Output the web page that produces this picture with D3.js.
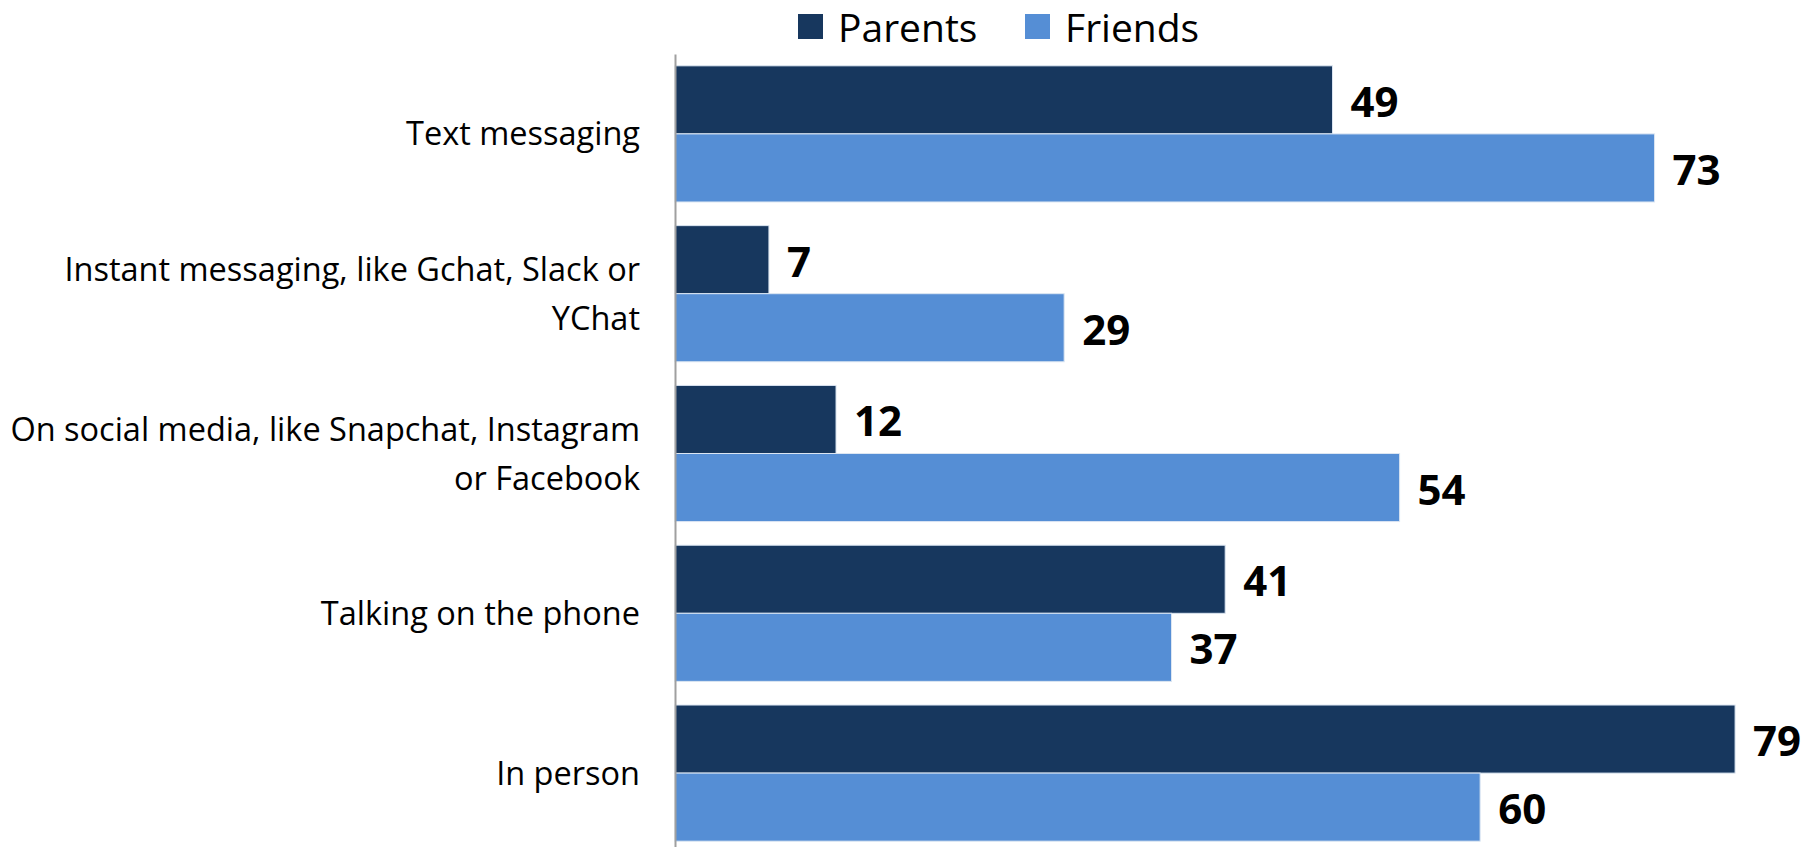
<!DOCTYPE html>
<html>
<head>
<meta charset="utf-8">
<script src="https://cdn.jsdelivr.net/npm/d3@7"></script>
<style>
  html, body { margin: 0; padding: 0; background: #ffffff; }
  svg { display: block; font-family: "Open Sans", "Noto Sans", sans-serif; }
</style>
</head>
<body>
<svg id="chart" width="1812" height="847"></svg>
<script>
// Ways of keeping in touch, shares by contact group
const categories = [
  ["Text messaging"],
  ["Instant messaging, like Gchat, Slack or", "YChat"],
  ["On social media, like Snapchat, Instagram", "or Facebook"],
  ["Talking on the phone"],
  ["In person"]
];
const seriesNames = ["Parents", "Friends"];
const parentsValues = [49, 7, 12, 41, 79];
const friendsValues = [73, 29, 54, 37, 60];
const seriesColors = ["#17375E", "#558ED5"];

const svg = d3.select("#chart");

const catKeys = categories.map(c => c.join(" "));
const values = [parentsValues, friendsValues];

// Scales
const x = d3.scaleLinear().domain([0, 80]).range([675, 1748.5]);
const y = d3.scaleBand()
  .domain(catKeys)
  .range([54, 853])
  .paddingInner(0.148)
  .paddingOuter(0.074);
const ySub = d3.scaleBand()
  .domain(seriesNames)
  .range([0, y.bandwidth()])
  .padding(0);

// Bars
const groups = svg.append("g").selectAll("g")
  .data(catKeys)
  .join("g")
  .attr("transform", d => `translate(0,${y(d)})`);

groups.selectAll("rect")
  .data((d, i) => seriesNames.map((s, j) => ({ s, j, v: values[j][i] })))
  .join("rect")
  .attr("x", x(0))
  .attr("y", d => ySub(d.s))
  .attr("width", d => x(d.v) - x(0))
  .attr("height", ySub.bandwidth())
  .attr("fill", d => seriesColors[d.j])
  .attr("stroke", "#dce6f2")
  .attr("stroke-width", 1);

// Value labels
groups.selectAll("text")
  .data((d, i) => seriesNames.map((s, j) => ({ s, j, v: values[j][i] })))
  .join("text")
  .attr("x", d => x(d.v) + 18)
  .attr("y", d => ySub(d.s) + ySub.bandwidth() / 2 + 17)
  .attr("font-size", 42)
  .attr("font-weight", 700)
  .attr("fill", "#000")
  .text(d => d.v);

// Vertical category axis
const axis = d3.axisLeft(y).tickSize(0).tickFormat("");
const axisG = svg.append("g")
  .attr("transform", `translate(${x(0)},0)`)
  .call(axis);
axisG.select(".domain").attr("stroke", "#a0a0a0").attr("stroke-width", 2);

// Category labels, right-aligned, multi-line centred on each group
const lineH = 49;
const labelG = svg.append("g");
categories.forEach((lines, i) => {
  const cy = y(catKeys[i]) + y.bandwidth() / 2;
  const first = cy - (lines.length - 1) * lineH / 2 + 11.5;
  const t = labelG.append("text")
    .attr("text-anchor", "end")
    .attr("font-size", 32.5)
    .attr("fill", "#000");
  lines.forEach((ln, k) => {
    t.append("tspan").attr("x", 640).attr("y", first + k * lineH).text(ln);
  });
});

// Legend
const legendItems = [
  { name: seriesNames[0], color: seriesColors[0], x: 798 },
  { name: seriesNames[1], color: seriesColors[1], x: 1025 }
];
const lg = svg.append("g");
legendItems.forEach(it => {
  lg.append("rect")
    .attr("x", it.x).attr("y", 14)
    .attr("width", 25).attr("height", 25)
    .attr("fill", it.color);
  lg.append("text")
    .attr("x", it.x + 40).attr("y", 42)
    .attr("font-size", 39)
    .attr("fill", "#000")
    .text(it.name);
});
</script>
</body>
</html>
